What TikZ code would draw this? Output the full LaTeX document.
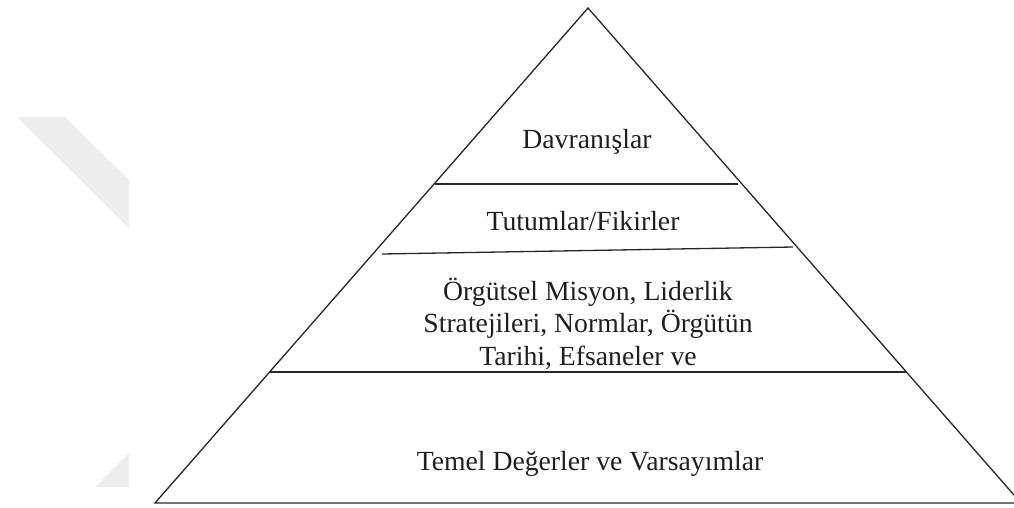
\documentclass[tikz,border=0pt]{standalone}
\usepackage{fontspec}
\setmainfont{Liberation Serif}
\begin{document}
\begin{tikzpicture}[x=1pt,y=-1pt,
  edge/.style={draw=black!85,line width=1.3pt},
  lbl/.style={font=\fontsize{27.7}{32.5}\selectfont,text=black!88,align=center,inner sep=0pt,anchor=base},
  wm/.style={fill=black!7,draw=none}]
\useasboundingbox (0,0) rectangle (1014,507);
\clip (0,0) rectangle (1014,507);
% faint watermark pieces
\fill[wm] (17,117) -- (65,117) -- (129,180) -- (129,228) -- cycle;
\fill[wm] (129,453) -- (129,487) -- (95,487) -- cycle;
% pyramid
\coordinate (apex) at (588,8);
\coordinate (bl) at (155,503);
\coordinate (br) at (1021,503);
\draw[edge,line join=miter] (bl) -- (apex) -- (br) -- cycle;
% dividers
\coordinate (d1l) at (435,184);
\coordinate (d1r) at (738,184);
\coordinate (d2l) at (382,254);
\coordinate (d2r) at (793,247);
\coordinate (d3l) at (270,372);
\coordinate (d3r) at (907,372);
\draw[edge] (d1l) -- (d1r);
\draw[edge] (d2l) -- (d2r);
\draw[edge] (d3l) -- (d3r);
% labels
\node[lbl] (davr) at (587,148) {Davranışlar};
\node[lbl] (tutum) at (583,230) {Tutumlar/Fikirler};
\node[lbl] (orgut) at (588,365) {Örgütsel Misyon, Liderlik\\Stratejileri, Normlar, Örgütün\\Tarihi, Efsaneler ve};
\node[lbl] (temel) at (590,470) {Temel Değerler ve Varsayımlar};
\end{tikzpicture}
\end{document}
